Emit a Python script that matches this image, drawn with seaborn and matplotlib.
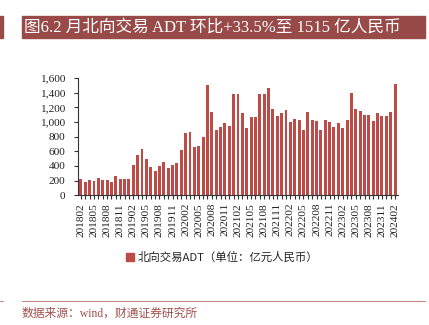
import numpy as np
import pandas as pd
import matplotlib
matplotlib.use("Agg")
import matplotlib.pyplot as plt
from matplotlib.patches import Rectangle
from matplotlib.lines import Line2D
import seaborn as sns

# Monthly northbound average daily turnover (100 million RMB), 2018-02 .. 2024-02
months = [f"{y}{m:02d}" for y in range(2018, 2025) for m in range(1, 13)]
months = months[months.index("201802"):months.index("202402") + 1]

adt = [
    220, 175, 205, 192, 232, 205, 209, 186, 268, 223, 223, 223,   # 2018-02 .. 2019-01
    409, 555, 632, 491, 391, 327, 400, 450, 377, 418, 436, 614,   # 2019-02 .. 2020-01
    850, 859, 655, 673, 791, 1504, 1132, 886, 936, 986, 941, 1386,  # 2020-02 .. 2021-01
    1377, 1118, 918, 1064, 1073, 1382, 1377, 1459, 1173, 1077, 1123, 1164,  # 2021-02 .. 2022-01
    995, 1041, 1027, 895, 1136, 1027, 1009, 886, 1023, 1004, 927, 982,  # 2022-02 .. 2023-01
    918, 1027, 1391, 1182, 1155, 1091, 1091, 1014, 1118, 1086, 1082, 1135,  # 2023-02 .. 2024-01
    1515,  # 2024-02
]

yticks = list(range(0, 1601, 200))
series_name = "北向交易ADT（单位：亿元人民币）"
title = "图6.2 月北向交易 ADT 环比+33.5%至 1515 亿人民币"
source = "数据来源：wind，财通证券研究所"

df = pd.DataFrame({"month": months, "adt": adt})

sns.set_theme(style="white")
plt.rcParams["font.family"] = ["Liberation Serif", "Noto Sans CJK SC", "DejaVu Sans"]

bar_color = "#BD4B48"
title_bg = "#984A48"
source_color = "#A0504C"

fig = plt.figure(figsize=(4.29, 3.25), dpi=100)
ax = fig.add_axes([0.1825, 0.399, 0.927 - 0.1825, 0.361])

sns.barplot(data=df, x="month", y="adt", color=bar_color, width=0.68,
            saturation=1, ax=ax, edgecolor="none")

ax.set_xlim(-0.6, len(months) - 0.4)
ax.set_ylim(0, 1600)
ax.set_yticks(yticks)
ax.set_yticklabels([f"{v:,}" for v in yticks], fontsize=8.2,
                   family=["Liberation Serif"])
ax.set_xticks(range(0, len(months), 3))
ax.set_xticklabels(months[::3], rotation=90, fontsize=8.2,
                   family=["Liberation Serif"])
ax.set_xticks(range(len(months)), minor=True)
ax.set_xlabel("")
ax.set_ylabel("")

for s in ["top", "right"]:
    ax.spines[s].set_visible(False)
for s in ["left", "bottom"]:
    ax.spines[s].set_color("#333333")
    ax.spines[s].set_linewidth(0.8)
ax.tick_params(axis="y", which="major", direction="out", length=3, width=0.8,
               color="#333333", left=True, pad=6.5, labelcolor="#222222")
ax.tick_params(axis="x", which="both", direction="out", length=3, width=0.8,
               color="#333333", bottom=True, pad=2.5, labelcolor="#222222")

# legend below the plot
handle = Rectangle((0, 0), 1, 1, color=bar_color)
fig.legend([handle], [series_name], loc="center", bbox_to_anchor=(0.517, 0.209),
           frameon=False, handlelength=0.7, handleheight=0.7, handletextpad=0.3,
           prop={"family": ["Noto Sans CJK SC"], "size": 8.2})

# title banner
fig.patches.append(Rectangle((22 / 429, 1 - 38.3 / 325), (425 - 22) / 429, 22.3 / 325,
                             transform=fig.transFigure, color=title_bg, zorder=0))
fig.patches.append(Rectangle((0, 1 - 38.3 / 325), 3 / 429, 22.3 / 325,
                             transform=fig.transFigure, color=title_bg, zorder=0))
fig.text(24 / 429, 1 - 27.5 / 325, title, color="white", fontsize=12, va="center",
         ha="left", family=["Liberation Serif", "Noto Sans CJK SC"])

# footer rule and source note
fig.lines.append(Line2D([22 / 429, 425 / 429], [1 - 301 / 325] * 2,
                        transform=fig.transFigure, color="#C48886", lw=0.8))
fig.lines.append(Line2D([0, 3 / 429], [1 - 301 / 325] * 2,
                        transform=fig.transFigure, color="#C48886", lw=0.8))
fig.text(22 / 429, 1 - 314 / 325, source, color=source_color, fontsize=8.5,
         va="center", ha="left", family=["Liberation Serif", "Noto Sans CJK SC"])

fig.savefig("out.png", dpi=100, facecolor="white")
